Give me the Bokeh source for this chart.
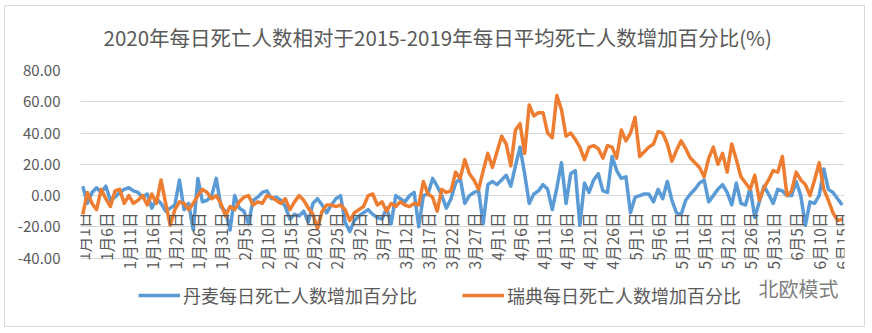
import numpy as np
from bokeh.plotting import figure
from bokeh.models import (FactorRange, Range1d, FixedTicker, NumeralTickFormatter,
                          Legend, LegendItem, Title, Label, InlineStyleSheet)
from bokeh.core.properties import value
from bokeh.embed import file_html
from bokeh.resources import INLINE

# ---------------- data ----------------
month_days = [31, 28, 31, 30, 31, 15]
dates = [f"{m}月{d}日" for m, n in enumerate(month_days, 1) for d in range(1, n + 1)]
tick_labels = dates[::5]
y_ticks = [-40, -20, 0, 20, 40, 60, 80]

denmark = [
    6, -5, 2, 5, 2, 6, -3, -1, 2, 4,
    5, 3, 2, -1, 1, -8, -2, -5, -10, -8,
    -6, 10, -9, -5, -22, 11, -4, -3, 0, 11,
    -7, -10, -22, 0, -8, -10, -18, -3, -1, 2,
    3, -2, -1, -3, -7, -15, -12, -13, -10, -17,
    -5, -2, -6, -11, -6, -2, 0, -17, -23, -16,
    -13, -11, -9, -12, -14, -15, -8, -18, 0, -2,
    -4, 0, 2, -20, 0, 1, 11, 6, 0, -8,
    -2, 8, 11, -5, 0, 2, 3, -18, 7, 9,
    7, 10, 13, 6, 19, 31, 14, -5, 1, 3,
    7, 4, -9, 5, 21, -5, 14, 16, -19, 8,
    2, 10, 14, 3, 2, 25, 16, 11, 12, -11,
    -1, 0, 1, 1, -4, 4, -2, 9, -3, -11,
    -12, -3, 1, 4, 8, 10, -4, 0, 4, 7,
    2, -6, 8, -5, -6, 5, -14, -4, 6, 1,
    -5, 4, 3, 0, 0, 9, 0, -19, -4, -5,
    0, 17, 4, 2, -2, -6,
]

sweden = [
    -12, 2, -5, -9, 4, -2, -7, 3, 4, -5,
    0, -5, -3, 0, -6, 1, -5, 10, -5, -19,
    -9, -4, -5, -9, -5, 0, 4, 2, -2, 0,
    -5, -13, -7, -9, -4, -1, 0, -6, -4, -5,
    0, -1, -3, -5, -2, -9, -4, 0, -3, -8,
    -12, -21, -10, -6, -6, -7, -6, -9, -16, -11,
    -9, -7, 0, 1, -6, -4, -10, -5, -7, -4,
    -6, -7, -5, -6, 9, 1, -1, -10, 4, 2,
    3, 15, 11, 23, 14, 10, 4, 16, 27, 18,
    28, 38, 33, 19, 42, 46, 27, 58, 51, 53,
    53, 40, 37, 64, 55, 38, 40, 36, 31, 23,
    31, 32, 30, 24, 32, 31, 24, 42, 35, 40,
    50, 25, 28, 31, 33, 41, 40, 33, 22, 29,
    35, 30, 24, 21, 18, 12, 24, 31, 20, 27,
    15, 33, 23, 12, 8, 4, 13, -3, 5, 10,
    16, 15, 25, 0, 3, 15, 10, 7, 0, 10,
    21, 4, -3, -11, -16, -15,
]

title_text = "2020年每日死亡人数相对于2015-2019年每日平均死亡人数增加百分比(%)"
name_dk = "丹麦每日死亡人数增加百分比"
name_se = "瑞典每日死亡人数增加百分比"
watermark = "北欧模式"

FONT = "Noto Sans CJK SC"
GREY = "#595959"
BLUE = "#5B9BD5"
ORANGE = "#ED7D31"

# ---------------- figure ----------------
# frame runs from the 80 gridline down to the bottom of the chart box,
# so that the legend (drawn inside the frame) is not clipped
p = figure(width=872, height=333,
           x_range=FactorRange(factors=dates, range_padding=0),
           y_range=Range1d(-85, 80),
           output_backend="svg", toolbar_location=None,
           min_border_left=80, min_border_right=28,
           min_border_top=69, min_border_bottom=5,
           background_fill_color="white", border_fill_color="white")
p.stylesheets = [InlineStyleSheet(css=(
    ":host::after { content: ''; position: absolute; left: 4px; top: 5px; "
    "width: 859px; height: 320px; border: 1px solid #d9d9d9; "
    "pointer-events: none; z-index: 100; }"))]
p.outline_line_color = None
p.xaxis.visible = False
p.xgrid.visible = False

p.yaxis.ticker = FixedTicker(ticks=y_ticks)
p.ygrid.ticker = FixedTicker(ticks=y_ticks)
p.ygrid.grid_line_color = "#d9d9d9"
p.ygrid.grid_line_width = 1
p.yaxis.formatter = NumeralTickFormatter(format="0.00")
p.yaxis.axis_line_color = None
p.yaxis.major_tick_line_color = None
p.yaxis.minor_tick_line_color = None
p.yaxis.major_label_text_font = FONT
p.yaxis.major_label_text_font_size = "15px"
p.yaxis.major_label_text_color = GREY
p.yaxis.major_label_standoff = 14

r_dk = p.line(x=dates, y=denmark, line_color=BLUE, line_width=3.5, line_join="round")
r_se = p.line(x=dates, y=sweden, line_color=ORANGE, line_width=3.5, line_join="round")

# category labels next to the zero line, rotated
p.text(x=tick_labels, y=[0] * len(tick_labels), text=tick_labels,
       angle=np.pi / 2, text_align="right", text_baseline="middle",
       y_offset=17, text_font=value(FONT), text_font_size="15.5px", text_color=GREY)

title = Title(text=title_text, align="left", offset=23, standoff=38,
              text_font=FONT, text_font_size="20.5px", text_font_style="normal",
              text_color=GREY)
p.add_layout(title, "above")

legend = Legend(items=[LegendItem(label=name_dk, renderers=[r_dk]),
                       LegendItem(label=name_se, renderers=[r_se])],
                orientation="horizontal", location=(58, 20),
                glyph_width=42, glyph_height=20, label_standoff=3, spacing=45,
                padding=0, margin=0, border_line_color=None,
                background_fill_alpha=0,
                label_text_font=FONT, label_text_font_size="18px",
                label_text_color=GREY)
p.add_layout(legend, "center")

p.add_layout(Label(x=678, y=40, x_units="screen", y_units="screen", text=watermark,
                   text_font=FONT, text_font_size="20px", text_color="#808080",
                   text_baseline="middle"))

open("out.html", "w").write(file_html(p, INLINE))
